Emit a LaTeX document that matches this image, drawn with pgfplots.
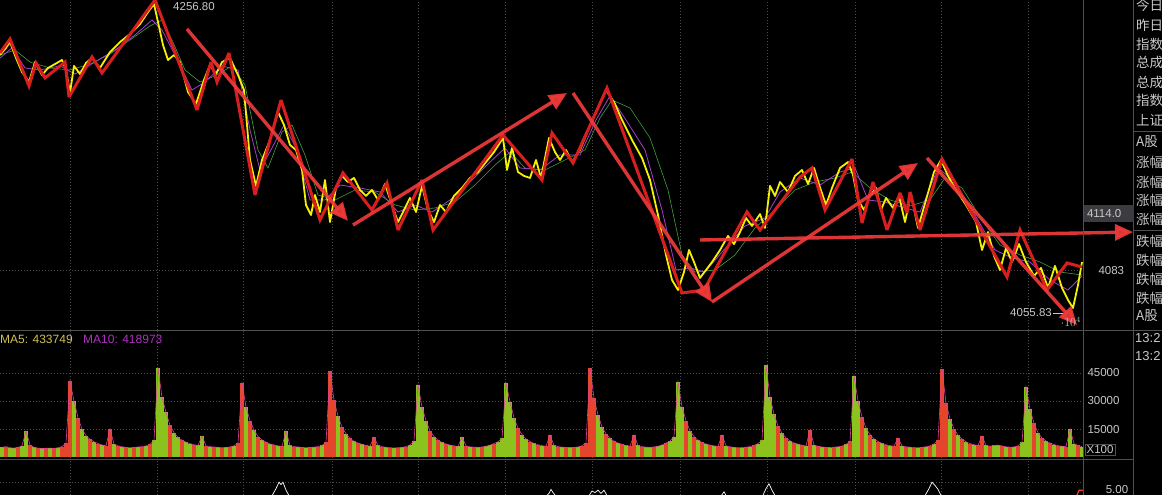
\documentclass[border=0pt]{standalone}
\usepackage{pgfplots}
\pgfplotsset{compat=1.18}
\usepackage{pgfplotstable}
\usepackage{fontspec}
\setmainfont{Liberation Sans}
\newfontfamily\cjk{Noto Sans CJK SC}
\usetikzlibrary{arrows.meta}

\definecolor{zz}{HTML}{D81E1E}
\definecolor{arr}{HTML}{F03A3A}
\definecolor{pyel}{HTML}{F5F200}
\definecolor{mapur}{HTML}{A040D0}
\definecolor{magrn}{HTML}{3FA040}
\definecolor{vgreen}{HTML}{8CC21E}
\definecolor{vred}{HTML}{E4452B}
\definecolor{vma}{HTML}{E040A0}
\definecolor{gridc}{HTML}{4A4A4A}
\definecolor{linec}{HTML}{505050}
\definecolor{txt}{HTML}{C8C8C8}
\definecolor{boxc}{HTML}{3C3C40}
\definecolor{ma5c}{HTML}{D0C050}
\definecolor{ma10c}{HTML}{B030C0}

% volume (x100): x position, volume, colour (1 = green, 0 = red)
\pgfplotstableread[row sep=\\]{
x v c\\
2 5200 1\\ 6 5600 0\\ 10 5000 1\\ 14 4800 1\\ 18 5200 0\\ 22 6000 1\\ 26 13900 1\\ 30 6500 0\\ 34 5200 1\\ 38 4800 0\\
42 4600 1\\ 46 4700 0\\ 50 4800 1\\ 54 4600 0\\ 58 5000 1\\ 62 5600 0\\ 66 7500 0\\
70 40700 0\\
74 30000 1\\ 78 21000 0\\ 82 15000 1\\ 86 11500 1\\ 90 9500 0\\ 94 8200 1\\ 98 7200 0\\ 102 6500 1\\ 106 6000 0\\ 110 15000 0\\
114 7000 1\\ 118 6000 0\\ 122 5500 1\\ 126 5200 0\\ 130 5000 1\\ 134 5200 0\\ 138 5400 1\\ 142 5600 0\\ 146 6000 1\\ 150 6800 0\\ 154 9000 1\\
158 47700 1\\
162 32000 1\\ 166 24000 1\\ 170 17000 0\\ 174 13000 1\\ 178 10500 1\\ 182 9000 0\\ 186 8000 1\\ 190 7200 1\\ 194 6600 0\\ 198 6200 1\\
202 11250 1\\ 206 6000 0\\ 210 5600 1\\ 214 5400 0\\ 218 5200 1\\ 222 5000 0\\ 226 5200 1\\ 230 5400 0\\ 234 6000 1\\ 238 7500 0\\
242 39600 0\\
246 26800 1\\ 250 19500 0\\ 254 14500 1\\ 258 11000 0\\ 262 9200 1\\ 266 8000 0\\ 270 7000 1\\ 274 6500 0\\ 278 6000 1\\ 282 5700 0\\
286 13900 1\\ 290 6200 1\\ 294 5600 0\\ 298 5400 1\\ 302 5200 0\\ 306 5000 1\\ 310 5200 0\\ 314 5300 1\\ 318 5600 0\\ 322 6200 1\\ 326 7800 0\\
330 46000 0\\
334 30500 0\\ 338 22000 1\\ 342 16000 0\\ 346 12500 1\\ 350 10000 0\\ 354 8500 1\\ 358 7500 0\\ 362 6800 1\\ 366 6200 0\\ 370 5800 1\\
374 10700 0\\ 378 6200 1\\ 382 5600 0\\ 386 5200 1\\ 390 5000 0\\ 394 4900 1\\ 398 5000 0\\ 402 5200 1\\ 406 5600 0\\ 410 6500 1\\ 414 8500 1\\
418 38600 1\\
422 26800 1\\ 426 19500 1\\ 430 14000 0\\ 434 11000 1\\ 438 9000 0\\ 442 7800 1\\ 446 7000 0\\ 450 6400 1\\ 454 6000 0\\ 458 5700 1\\
462 10700 1\\ 466 6000 0\\ 470 5500 1\\ 474 5300 0\\ 478 5200 1\\ 482 5400 0\\ 486 5800 1\\ 490 6400 1\\ 494 7200 0\\ 498 8200 1\\ 502 10000 1\\
506 39600 1\\
510 29500 1\\ 514 21000 1\\ 518 15500 0\\ 522 12000 1\\ 526 9800 1\\ 530 8300 0\\ 534 7300 1\\ 538 6600 0\\ 542 6100 1\\ 546 5800 0\\
550 11800 0\\ 554 6200 1\\ 558 5600 0\\ 562 5300 1\\ 566 5200 0\\ 570 5100 1\\ 574 5200 0\\ 578 5400 1\\ 582 6000 0\\ 586 7500 0\\
590 47700 0\\
594 31600 0\\ 598 22500 1\\ 602 16000 1\\ 606 12500 0\\ 610 10000 1\\ 614 8500 0\\ 618 7500 1\\ 622 6800 0\\ 626 6200 1\\ 630 5800 0\\
634 11800 0\\ 638 6200 1\\ 642 5600 0\\ 646 5300 1\\ 650 5200 1\\ 654 5400 0\\ 658 5800 1\\ 662 6500 1\\ 666 7500 0\\ 670 8500 1\\ 674 11000 1\\
678 40200 1\\
682 26800 1\\ 686 19500 0\\ 690 14000 1\\ 694 11000 0\\ 698 9000 1\\ 702 7800 0\\ 706 7000 1\\ 710 6400 0\\ 714 6000 1\\ 718 5700 0\\
722 11800 0\\ 726 6000 1\\ 730 5500 0\\ 734 5200 1\\ 738 5000 0\\ 742 5100 1\\ 746 5300 0\\ 750 5600 1\\ 754 6200 0\\ 758 7200 1\\ 762 9000 1\\
766 49300 1\\
770 32100 1\\ 774 23000 1\\ 778 16500 0\\ 782 12800 1\\ 786 10200 0\\ 790 8700 1\\ 794 7600 0\\ 798 6900 1\\ 802 6300 0\\ 806 5900 1\\
810 14500 0\\ 814 6500 1\\ 818 5700 0\\ 822 5400 1\\ 826 5200 0\\ 830 5100 1\\ 834 5300 0\\ 838 5500 1\\ 842 5900 0\\ 846 6800 1\\ 850 8500 0\\
854 43400 1\\
858 30000 1\\ 862 21500 0\\ 866 15500 1\\ 870 12000 0\\ 874 9800 1\\ 878 8300 0\\ 882 7300 1\\ 886 6600 0\\ 890 6100 1\\ 894 5800 0\\
898 10200 0\\ 902 6000 1\\ 906 5500 0\\ 910 5300 1\\ 914 5100 0\\ 918 5000 1\\ 922 5200 0\\ 926 5500 1\\ 930 6000 0\\ 934 7000 1\\ 938 9000 0\\
942 47100 0\\
946 28900 0\\ 950 20500 1\\ 954 15000 0\\ 958 11800 1\\ 962 9600 0\\ 966 8200 1\\ 970 7200 0\\ 974 6600 1\\ 978 6200 0\\
982 11250 0\\ 986 6200 1\\ 990 5800 0\\ 994 6200 1\\ 998 6400 1\\ 1002 6000 0\\ 1006 5500 1\\ 1010 5300 0\\ 1014 5400 1\\ 1018 6000 0\\ 1022 8000 1\\
1026 37500 1\\
1030 25700 1\\ 1034 18000 0\\ 1038 13000 1\\ 1042 10200 0\\ 1046 8600 1\\ 1050 7500 0\\ 1054 6700 1\\ 1058 6100 0\\ 1062 5800 1\\ 1066 5600 0\\
1070 15000 1\\ 1074 7200 1\\ 1078 6200 0\\ 1082 5600 1\\
}\vol

\pgfplotsset{
  panel/.style={
    scale only axis, anchor=south west, width=1083pt,
    xmin=0, xmax=1083,
    axis line style={draw=none},
    major tick length=0pt,
    xtick={70,157,243,332,418,505,592,680,767,855,941,1028},
    xticklabels={},
    xmajorgrids, ymajorgrids,
    major grid style={gridc, dash pattern=on 1pt off 2pt},
  },
  tarrow/.style={arr, opacity=0.92, line width=3.4pt, no marks,
    -{Triangle[length=18pt,width=16pt]}},
}

\begin{document}
\begin{tikzpicture}
\useasboundingbox (0,0) rectangle (1162pt,495pt);
\fill[black] (0,0) rectangle (1162pt,495pt);
\clip (0,0) rectangle (1162pt,495pt);

% ---------- price panel ----------
\begin{axis}[panel, at={(0pt,165pt)}, height=330pt,
  ymin=4044.8, ymax=4256, clip=false,
  ytick={4083}, yticklabels={4083}, yticklabel pos=right,
  yticklabel style={txt, font=\fontsize{11.5}{12}\selectfont, anchor=west, xshift=12pt},
]
% slower average (green)
\addplot[magrn, line width=0.6pt] coordinates {
(0,4220.8) (15,4224.0) (30,4216.3) (50,4212.5) (70,4211.2) (90,4215.0) (110,4221.4) (130,4230.4) (150,4239.4) (162,4243.2)
(172,4230.4) (185,4211.2) (200,4203.5) (215,4207.4) (232,4213.8) (245,4201.6) (258,4160.0) (268,4148.5) (282,4171.5) (292,4176.0)
(305,4156.8) (318,4131.2) (335,4128.0) (355,4134.4) (375,4133.1) (395,4124.8) (415,4121.6) (435,4122.9) (455,4126.7) (475,4137.6)
(495,4150.4) (510,4158.7) (525,4148.5) (545,4147.2) (565,4153.6) (585,4160.0) (600,4180.5) (612,4192.0) (630,4186.9) (650,4167.7)
(668,4134.4) (682,4092.8) (695,4081.9) (715,4083.2) (735,4092.8) (755,4110.1) (775,4121.6) (795,4134.4) (815,4139.5) (835,4142.1)
(852,4145.9) (870,4135.7) (890,4128.0) (910,4124.2) (930,4128.0) (945,4142.1) (962,4135.7) (982,4115.2) (1000,4099.2) (1020,4092.8)
(1040,4088.3) (1060,4081.9) (1082,4080.0)};
% faster average (purple)
\addplot[mapur, line width=0.8pt] coordinates {
(0,4218.9) (12,4225.3) (25,4212.5) (40,4211.2) (60,4213.8) (75,4208.6) (95,4216.3) (115,4224.0) (135,4233.6) (152,4243.2)
(162,4236.8) (175,4220.8) (192,4198.4) (205,4203.5) (222,4213.8) (238,4211.2) (250,4172.8) (260,4147.2) (272,4161.3) (284,4176.0)
(296,4161.3) (310,4128.0) (325,4128.0) (340,4137.6) (360,4135.7) (380,4133.1) (398,4120.3) (415,4124.8) (432,4120.3) (450,4128.0)
(470,4139.5) (490,4152.3) (505,4161.3) (520,4148.5) (540,4147.2) (560,4156.8) (580,4156.8) (596,4179.2) (610,4194.6) (626,4179.2)
(645,4160.0) (662,4121.6) (676,4083.2) (690,4084.5) (705,4081.9) (722,4094.7) (745,4111.4) (765,4116.5) (780,4133.1) (800,4142.1)
(820,4137.6) (840,4145.9) (855,4148.5) (868,4128.0) (885,4126.7) (905,4122.9) (920,4120.3) (938,4148.5) (955,4139.5) (975,4118.4)
(995,4096.0) (1012,4090.9) (1030,4088.3) (1050,4076.8) (1068,4070.4) (1082,4079.4)};
% index (yellow)
\addplot[pyel, line width=1.8pt, line join=round] coordinates {
(0,4220.8) (6,4225.3) (10,4229.1) (16,4218.9) (22,4209.9) (29,4203.5) (35,4216.3) (42,4208.0) (48,4212.5) (55,4215.0)
(62,4217.6) (66,4211.2) (70,4196.5) (74,4213.8) (80,4208.6) (86,4215.7) (92,4218.9) (100,4212.5) (110,4222.7) (120,4229.1)
(130,4234.2) (140,4240.6) (148,4248.3) (154,4253.4) (158,4241.9) (163,4227.2) (168,4217.6) (174,4220.8) (180,4216.3) (188,4197.1)
(196,4189.4) (204,4204.8) (210,4214.4) (216,4208.6) (222,4216.3) (230,4218.9) (238,4208.0) (244,4198.4) (250,4153.6) (256,4137.0)
(262,4153.6) (270,4166.4) (278,4184.3) (284,4176.0) (290,4163.2) (296,4160.0) (302,4147.2) (306,4124.8) (311,4118.4) (315,4131.2)
(320,4120.3) (325,4140.8) (330,4113.9) (336,4135.7) (342,4143.4) (348,4139.5) (354,4142.1) (360,4134.4) (366,4130.6) (372,4134.4)
(378,4128.0) (385,4138.2) (392,4124.8) (398,4113.9) (404,4121.6) (410,4129.3) (416,4120.3) (422,4137.0) (428,4121.6) (434,4113.9)
(440,4124.8) (446,4120.3) (454,4130.6) (462,4135.7) (470,4142.1) (478,4145.9) (486,4152.3) (494,4158.7) (503,4167.7) (507,4147.2)
(512,4161.3) (518,4145.9) (524,4143.4) (530,4142.1) (536,4153.6) (541,4142.1) (549,4167.7) (555,4158.7) (560,4153.6) (566,4160.0)
(572,4152.3) (580,4160.0) (588,4172.8) (596,4184.3) (606,4198.4) (614,4190.7) (622,4179.2) (632,4166.4) (642,4154.9) (650,4140.8)
(658,4118.4) (666,4092.8) (672,4076.8) (678,4070.4) (684,4081.9) (689,4096.0) (694,4088.3) (700,4078.1) (706,4083.2) (712,4088.3)
(720,4096.0) (728,4105.0) (734,4099.8) (740,4107.5) (746,4116.5) (752,4111.4) (760,4119.0) (765,4110.1) (770,4137.0) (775,4130.6)
(780,4139.5) (788,4133.1) (795,4143.4) (802,4147.2) (808,4138.2) (814,4148.5) (820,4136.0) (826,4124.8) (832,4135.7) (840,4148.5)
(848,4152.3) (853,4144.0) (858,4128.0) (864,4121.6) (870,4130.6) (876,4135.7) (881,4121.6) (886,4129.3) (893,4122.9) (899,4130.6)
(905,4113.9) (911,4131.8) (918,4110.1) (926,4128.0) (934,4145.9) (941,4153.6) (948,4143.4) (956,4134.4) (966,4124.8) (976,4113.9)
(982,4096.0) (988,4107.5) (994,4092.2) (1000,4083.2) (1006,4097.3) (1012,4088.3) (1019,4099.8) (1026,4088.3) (1034,4079.4) (1041,4084.5)
(1048,4071.7) (1055,4085.8) (1062,4071.7) (1068,4064.0) (1073,4058.9) (1078,4073.6) (1082,4088.3)};
% hand-drawn zigzag (red)
\addplot[zz, line width=3pt, miter limit=3] coordinates {
(0,4222.1) (10,4231.0) (29,4201.0) (36,4215.7) (45,4206.1) (65,4216.3) (69,4193.9) (92,4219.5) (102,4209.3) (155,4256.0)
(197,4185.6) (211,4216.3) (217,4203.5) (229,4222.1) (255,4131.2) (281,4192.0) (320,4115.2) (343,4145.3) (372,4121.6) (387,4138.9)
(398,4108.8) (422,4140.8) (433,4108.8) (503,4169.6) (542,4140.8) (552,4170.9) (573,4151.7) (607,4199.7) (682,4068.5) (704,4070.4)
(747,4120.3) (760,4108.8) (800,4142.7) (812,4148.5) (825,4121.6) (852,4154.2) (862,4113.3) (873,4139.5) (887,4108.8) (900,4132.5)
(907,4119.7) (910,4133.1) (920,4108.8) (942,4154.2) (1007,4078.7) (1020,4108.8) (1047,4070.4) (1067,4087.7) (1082,4085.1)};
% hand-drawn trend arrows
\addplot[tarrow] coordinates {(187,4237.4) (348,4114.6)};
\addplot[tarrow] coordinates {(353,4112.0) (567,4196.5)};
\addplot[tarrow] coordinates {(573,4196.5) (712,4062.7)};
\addplot[tarrow] coordinates {(712,4062.7) (918,4151.7)};
\addplot[tarrow] coordinates {(700,4102.4) (1133,4107.5)};
\addplot[tarrow] coordinates {(927,4154.9) (1077,4048.0)};
\end{axis}

% ---------- volume panel ----------
\begin{axis}[panel, at={(0pt,37pt)}, height=127pt,
  ymin=-500, ymax=67500,
  ytick={15000,30000,45000}, yticklabels={15000,30000,45000}, yticklabel pos=right,
  yticklabel style={txt, font=\fontsize{11.5}{12}\selectfont, anchor=west, xshift=1pt},
]
\addplot[ycomb, vgreen, line width=3.6pt, no marks,
  restrict expr to domain={\thisrow{c}}{0.5:1.5}] table[x=x, y=v] {\vol};
\addplot[ycomb, vred, line width=3.6pt, no marks,
  restrict expr to domain={\thisrow{c}}{-0.5:0.5}] table[x=x, y=v] {\vol};
\addplot[vma, line width=0.6pt, no marks] table[x=x, y=v] {\vol};
\end{axis}

% ---------- indicator panel ----------
\begin{axis}[panel, at={(0pt,0pt)}, height=35pt,
  ymin=0, ymax=43.75, ytick={16.25}, yticklabels={},
]
\addplot[white, line width=0.7pt] coordinates {
(0,-3) (265,-3) (272,-1) (276,8) (279,16) (281,13) (283,16) (286,6) (290,-3) (545,-3) (549,2) (551,7) (553,3) (557,-3)
(588,-3) (592,5) (595,3) (598,6) (601,2) (604,6) (608,-3) (720,-3) (724,4) (727,-3) (762,-3) (766,8) (769,14) (772,6) (776,-3)
(924,-3) (929,8) (932,16) (935,12) (938,7) (942,-3) (1076,-3)};
\addplot[vred, line width=1.2pt] coordinates {(1076,-3) (1079,6) (1083,6)};
\end{axis}

% ---------- frame lines ----------
\draw[linec, line width=0.8pt] (0,164.5pt) -- (1162pt,164.5pt);
\draw[linec, line width=0.8pt] (0,36pt) -- (1133pt,36pt);
\draw[linec, line width=0.8pt] (1083pt,0) -- (1083pt,495pt);
\draw[linec, line width=0.8pt] (1133pt,0) -- (1133pt,495pt);
\draw[linec, line width=0.8pt] (1133pt,364pt) -- (1162pt,364pt);
\draw[linec, line width=0.8pt] (1133pt,265pt) -- (1162pt,265pt);

% ---------- labels ----------
\node[txt, font=\fontsize{11.5}{12}\selectfont, inner sep=1pt] at (194pt,488pt) {4256.80};
\node[fill=boxc, text=txt, font=\fontsize{11.5}{12}\selectfont, anchor=west, inner sep=1pt,
  minimum width=50pt, minimum height=17pt, align=left] at (1083.5pt,281.5pt) {4114.0\hspace{9pt}};
\node[txt, font=\fontsize{11.5}{12}\selectfont, anchor=east, inner sep=1pt] at (1053pt,182pt) {4055.83};
\draw[txt] (1053pt,182pt) -- (1063pt,182pt);
\node[ma5c, font=\fontsize{12}{12}\selectfont, anchor=west, inner sep=0pt] at (0pt,156pt) {MA5: 433749};
\node[ma10c, font=\fontsize{12}{12}\selectfont, anchor=west, inner sep=0pt] at (83pt,156pt) {MA10: 418973};
\node[txt, draw=linec, font=\fontsize{11.5}{12}\selectfont, inner sep=1.5pt] at (1100pt,45pt) {X100};
\node[txt, font=\fontsize{11.5}{12}\selectfont, inner sep=1pt] at (1117pt,5.5pt) {5.00};
\node[txt, font=\fontsize{13}{13}\selectfont, anchor=west, inner sep=0pt] at (1135pt,157pt) {13:2};
\node[txt, font=\fontsize{13}{13}\selectfont, anchor=west, inner sep=0pt] at (1135pt,139pt) {13:2};

\begin{scope}[every node/.style={txt, font=\cjk\fontsize{13.5}{14}\selectfont, anchor=west, inner sep=0pt}]
\node at (1136pt,490pt) {今日};
\node at (1136pt,470pt) {昨日};
\node at (1136pt,451pt) {指数};
\node at (1136pt,433pt) {总成};
\node at (1136pt,413pt) {总成};
\node at (1136pt,395pt) {指数};
\node at (1136pt,375pt) {上证};
\node at (1136pt,353pt) {A股};
\node at (1136pt,333pt) {涨幅};
\node at (1136pt,313pt) {涨幅};
\node at (1136pt,295pt) {涨幅};
\node at (1136pt,276pt) {涨幅};
\node at (1136pt,254pt) {跌幅};
\node at (1136pt,235pt) {跌幅};
\node at (1136pt,216pt) {跌幅};
\node at (1136pt,197pt) {跌幅};
\node at (1136pt,179pt) {A股};
\end{scope}
\end{tikzpicture}
\end{document}
